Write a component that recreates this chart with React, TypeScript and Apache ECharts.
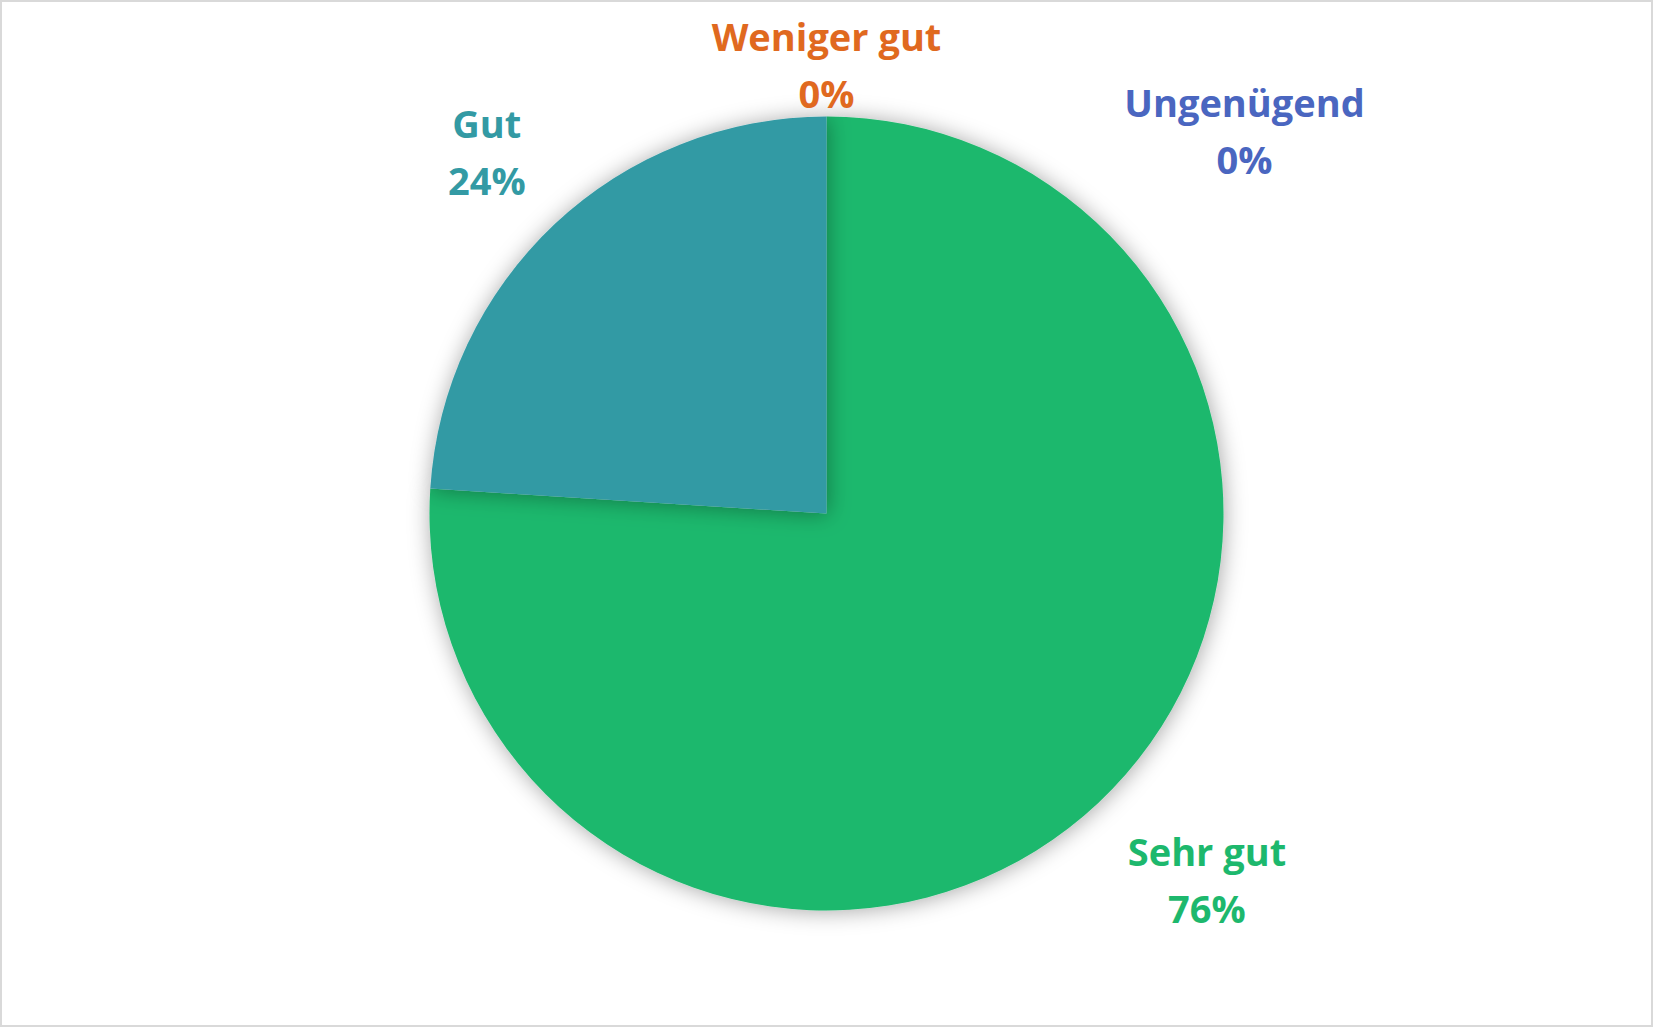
import React, { useEffect, useRef } from 'react';
import * as echarts from 'echarts';

const categories = ['Sehr gut', 'Gut', 'Weniger gut', 'Ungenügend'];
const shares = [76, 24, 0, 0];
const colors = ['#1db86d', '#339aa4', '#e0691f', '#4a66c0'];

// label distance from the centre (in radii) and a small nudge, per slice
const labelDistance = [1.33, 1.25, 1.13, 1.13];
const labelNudge = [
  [19, -19],
  [0, 0],
  [0, 0],
  [418, 66],
];

const RADIUS = 397;

export default function App() {
  const chartRef = useRef<HTMLDivElement>(null);

  useEffect(() => {
    document.body.style.margin = '0';
    if (!chartRef.current) return;
    const chart = echarts.init(chartRef.current, undefined, { renderer: 'svg' });

    const total = shares.reduce((a, b) => a + b, 0);
    // mid angle of every slice, clockwise from 12 o'clock (radians, screen coords)
    let acc = 0;
    const midAngles = shares.map((v) => {
      const mid = acc + v / 2;
      acc += v;
      return -Math.PI / 2 + (mid / total) * Math.PI * 2;
    });

    const option: echarts.EChartsOption = {
      animation: false,
      backgroundColor: '#ffffff',
      series: [
        {
          type: 'pie',
          center: ['50%', '50%'],
          radius: RADIUS,
          startAngle: 90,
          clockwise: true,
          avoidLabelOverlap: false,
          stillShowZeroSum: true,
          itemStyle: {
            borderWidth: 0,
            shadowBlur: 22,
            shadowOffsetX: 1,
            shadowOffsetY: 1,
            shadowColor: 'rgba(0,0,0,0.35)',
          },
          label: {
            show: true,
            position: 'outside',
            formatter: '{b}\n{d}%',
            fontFamily: 'Open Sans',
            fontWeight: 'bold',
            fontSize: 38,
            lineHeight: 57,
            align: 'center',
          },
          labelLine: { show: false },
          labelLayout: (params: any) => {
            const i = params.dataIndex;
            const cx = chart.getWidth() / 2;
            const cy = chart.getHeight() / 2;
            const d = RADIUS * labelDistance[i];
            return {
              x: cx + d * Math.cos(midAngles[i]) + labelNudge[i][0],
              y: cy + d * Math.sin(midAngles[i]) + labelNudge[i][1],
              align: 'center',
              verticalAlign: 'middle',
              hideOverlap: false,
            };
          },
          data: categories.map((name, i) => ({
            name,
            value: shares[i],
            itemStyle: { color: colors[i] },
            label: { color: colors[i] },
          })),
        },
      ],
    };
    chart.setOption(option);

    const resizeHandler = () => chart.resize();
    window.addEventListener('resize', resizeHandler);
    return () => {
      window.removeEventListener('resize', resizeHandler);
      chart.dispose();
    };
  }, []);

  return (
    <div
      style={{
        width: 1653,
        height: 1027,
        boxSizing: 'border-box',
        border: '2px solid #d9d9d9',
        background: '#fff',
      }}
    >
      <div ref={chartRef} style={{ width: '100%', height: '100%' }} />
    </div>
  );
}
